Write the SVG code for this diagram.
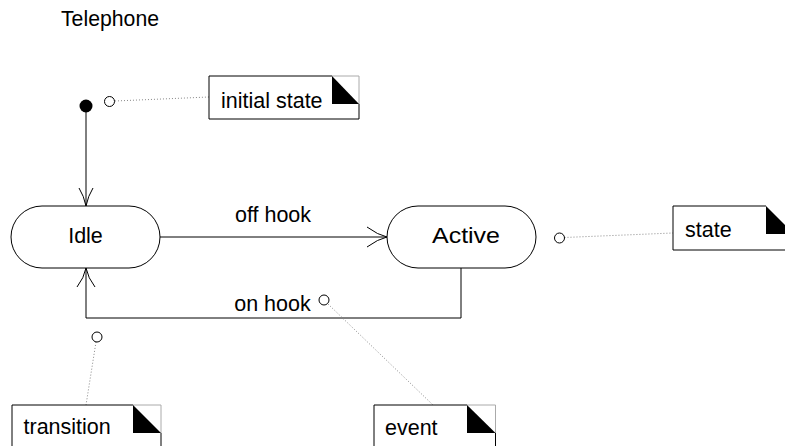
<svg xmlns="http://www.w3.org/2000/svg" width="785" height="446" viewBox="0 0 785 446">
<style>
text{font-family:"Liberation Sans",Arial,sans-serif;font-size:21.5px;fill:#000}
.st{fill:#fff;stroke:#000;stroke-width:1}
.ln{fill:none;stroke:#000;stroke-width:1}
.dot{fill:none;stroke:#888;stroke-width:1;stroke-dasharray:1 2}
.oc{fill:#fff;stroke:#000;stroke-width:1}
.nb{fill:#fff;stroke:#000;stroke-width:1}
.nc{fill:none;stroke:#aaa;stroke-width:1}
.tri{fill:#000}
</style>
<text x="61" y="26" textLength="98" lengthAdjust="spacingAndGlyphs">Telephone</text>
<g id="initial">
<circle cx="86" cy="106" r="6.5" fill="#000"/>
</g>
<g id="idle">
<rect class="st" x="11" y="206" width="149" height="62" rx="31" ry="31"/>
<text x="85.5" y="243" text-anchor="middle">Idle</text>
</g>
<g id="active">
<rect class="st" x="387" y="206" width="149" height="62" rx="31" ry="31"/>
<text x="466" y="243" text-anchor="middle" textLength="68" lengthAdjust="spacingAndGlyphs">Active</text>
</g>
<g id="connectors">
<line class="ln" x1="86" y1="112" x2="86" y2="206"/>
<path class="ln" d="M79,188 Q84,196 86,206 Q88,196 93,188"/>
<line class="ln" x1="160" y1="237" x2="387" y2="237"/>
<path class="ln" d="M367,227 Q378,235 387,237 Q378,239 367,247"/>
<polyline class="ln" points="461,268 461,318 86,318 86,268"/>
<path class="ln" d="M77,287 Q84,278 86,268 Q88,278 95,287"/>
<text x="273" y="221.5" text-anchor="middle">off hook</text>
<text x="272.5" y="311" text-anchor="middle">on hook</text>
<line class="dot" x1="115" y1="101" x2="209" y2="97"/>
<line class="dot" x1="564.5" y1="237.5" x2="673" y2="233"/>
<line class="dot" x1="96" y1="342" x2="86" y2="405"/>
<line class="dot" x1="328" y1="304" x2="433" y2="405"/>
</g>
<g id="note-initial">
<path class="nb" d="M332,76 H209 V119 H359 V104"/>
<path class="nc" d="M332,76 H359 V104"/>
<polygon class="tri" points="332,76 332,104 359,104"/>
<text x="221" y="107.5">initial state</text>
<circle class="oc" cx="109.5" cy="101.5" r="5"/>
</g>
<g id="note-state">
<path class="nb" d="M766,206 H673 V250 H795"/>
<polygon class="tri" points="766,206 766,234 794,234"/>
<text x="685" y="237">state</text>
<circle class="oc" cx="559.5" cy="238" r="5"/>
</g>
<g id="note-transition">
<path class="nb" d="M133,405 H12 V450 M161,433 V450"/>
<path class="nc" d="M133,405 H161 V433"/>
<polygon class="tri" points="133,405 133,433 161,433"/>
<text x="23.5" y="434">transition</text>
<circle class="oc" cx="97" cy="337" r="5"/>
</g>
<g id="note-event">
<path class="nb" d="M467,405 H374 V450 M495.5,433 V450"/>
<path class="nc" d="M467,405 H495.5 V433"/>
<polygon class="tri" points="467,405 467,433 495.5,433"/>
<text x="385" y="435">event</text>
<circle class="oc" cx="324" cy="300" r="5"/>
</g>
</svg>
